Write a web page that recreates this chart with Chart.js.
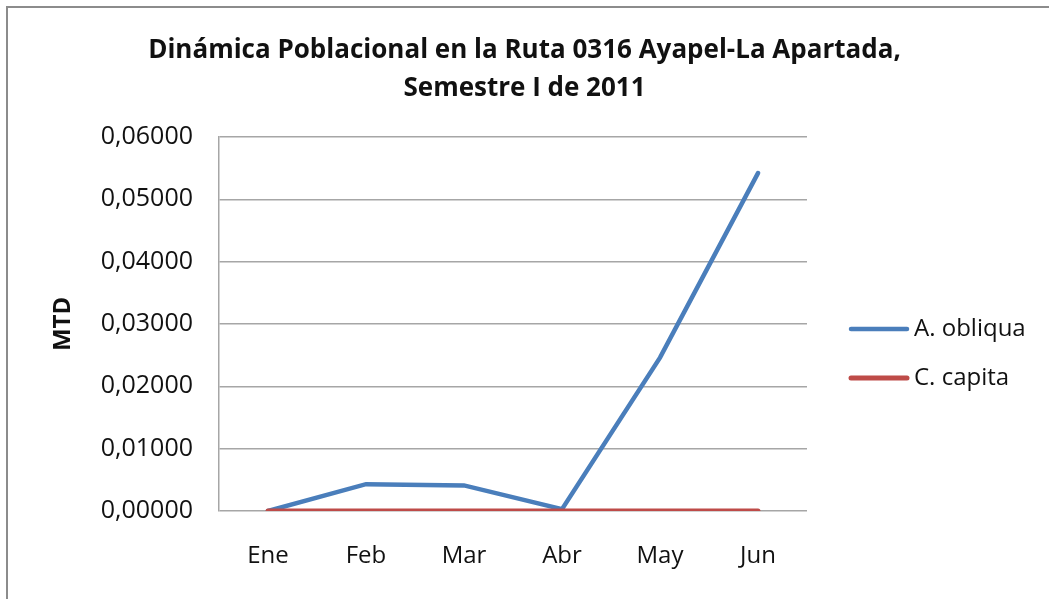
<!DOCTYPE html>
<html>
<head>
<meta charset="utf-8">
<script src="https://cdn.jsdelivr.net/npm/chart.js@4"></script>
<style>
  html, body { margin: 0; padding: 0; background: #fff; }
  #wrap { position: relative; width: 1049px; height: 599px; overflow: hidden; }
  #frame {
    position: absolute; left: 6px; top: 6px; width: 1100px; height: 700px;
    border: 2px solid #8c8c8c; box-sizing: border-box;
  }
  canvas { position: absolute; left: 0; top: 0; }
</style>
</head>
<body>
<div id="wrap">
  <div id="frame"></div>
  <canvas id="chart" width="1049" height="599"></canvas>
</div>
<script>
const months = ["Ene", "Feb", "Mar", "Abr", "May", "Jun"];
const oblicuaValues = [0.0000, 0.0043, 0.0041, 0.0003, 0.0246, 0.0542];
const capitaValues = [0.0000, 0.0000, 0.0000, 0.0000, 0.0000, 0.0000];
const seriesNames = ["A. obliqua", "C. capita"];
const titleLines = ["Dinámica Poblacional en la Ruta 0316 Ayapel-La Apartada,", "Semestre I de 2011"];

const FONT = "'Open Sans', Lato, sans-serif";

// legend drawn on the right, like the Excel original
const sideLegend = {
  id: "sideLegend",
  afterDraw(chart) {
    const ctx = chart.ctx;
    const rows = [329, 378];
    ctx.save();
    chart.data.datasets.forEach((ds, i) => {
      const y = rows[i];
      ctx.strokeStyle = ds.borderColor;
      ctx.lineWidth = ds.borderWidth;
      ctx.lineCap = "round";
      ctx.beginPath();
      ctx.moveTo(851, y);
      ctx.lineTo(907, y);
      ctx.stroke();
      ctx.fillStyle = "#111";
      ctx.font = "24px " + FONT;
      ctx.textBaseline = "middle";
      ctx.fillText(ds.label, 914, y);
    });
    ctx.restore();
  }
};

new Chart(document.getElementById("chart"), {
  type: "line",
  data: {
    labels: months,
    datasets: [
      {
        label: seriesNames[0],
        data: oblicuaValues,
        borderColor: "#4a7ebb",
        borderWidth: 4.5,
        pointRadius: 0,
        tension: 0,
        borderCapStyle: "round",
        order: 1
      },
      {
        label: seriesNames[1],
        data: capitaValues,
        borderColor: "#be4b48",
        borderWidth: 5,
        pointRadius: 0,
        tension: 0,
        borderCapStyle: "round",
        order: 0
      }
    ]
  },
  options: {
    responsive: false,
    animation: false,
    layout: { padding: 0 },
    plugins: {
      legend: { display: false },
      tooltip: { enabled: false },
      title: {
        display: true,
        text: titleLines,
        color: "#111",
        font: { family: FONT, size: 26, weight: "bold", lineHeight: 1.46 },
        padding: { top: 32, bottom: 29 }
      }
    },
    scales: {
      x: {
        offset: true,
        grid: { display: false, drawTicks: false },
        border: { display: false },
        ticks: { color: "#111", font: { family: FONT, size: 24 }, padding: 31 },
        afterFit(scale) { scale.height = 88; }
      },
      y: {
        min: 0,
        max: 0.06,
        ticks: {
          stepSize: 0.01,
          color: "#111",
          font: { family: FONT, size: 25 },
          padding: 26,
          callback: (v) => v.toFixed(5).replace(".", ",")
        },
        grid: { color: "#a6a6a6", lineWidth: 1.5, drawTicks: false },
        border: { color: "#a6a6a6", width: 1.5 },
        title: {
          display: true,
          text: "MTD",
          color: "#111",
          font: { family: FONT, size: 24, weight: "bold" },
          padding: { top: 49 }
        },
        afterFit(scale) { scale.width = 219; }
      },
      // empty right-hand box that reserves room for the legend
      side: {
        position: "right",
        display: true,
        grid: { display: false },
        border: { display: false },
        ticks: { display: false },
        afterFit(scale) { scale.width = 242; }
      }
    }
  },
  plugins: [sideLegend]
});
</script>
</body>
</html>
